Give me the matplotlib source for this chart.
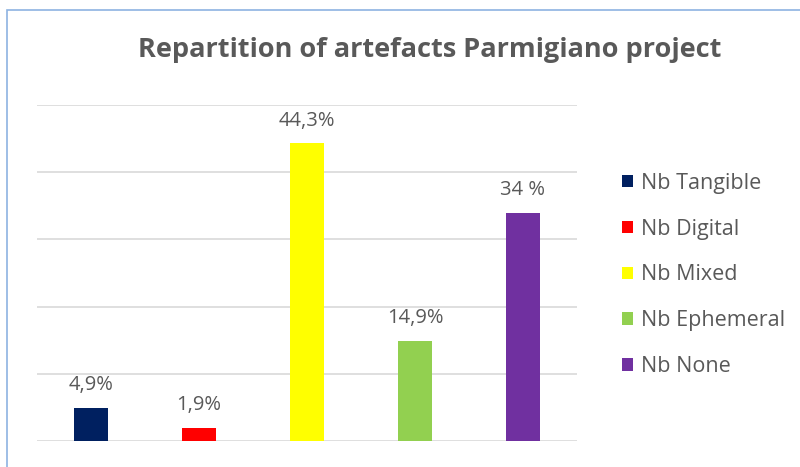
import matplotlib.pyplot as plt
from matplotlib.patches import Rectangle, Patch

# Data
categories = ['Nb Tangible', 'Nb Digital', 'Nb Mixed', 'Nb Ephemeral', 'Nb None']
values = [4.9, 1.9, 44.3, 14.9, 34.0]
value_labels = ['4,9%', '1,9%', '44,3%', '14,9%', '34 %']
colors = ['#002060', '#ff0000', '#ffff00', '#92d050', '#7030a0']

text_title = 'Repartition of artefacts Parmigiano project'
color_text = '#595959'
color_grid = '#d9d9d9'

plt.rcParams['font.family'] = ['Open Sans', 'DejaVu Sans']

fig = plt.figure(figsize=(8, 4.67), dpi=100)

# outer chart frame (Excel style)
fig.patches.append(Rectangle((7 / 800, -0.1), 1.2, (467 - 10) / 467 + 0.1,
                             transform=fig.transFigure, fill=False,
                             edgecolor='#8db3e2', linewidth=1.2))

ax = fig.add_axes([37 / 800, 26 / 467, 540 / 800, 336 / 467])
x = range(len(categories))
bars = ax.bar(x, values, width=0.31, color=colors, zorder=3)

for bar, lab in zip(bars, value_labels):
    ax.text(bar.get_x() + bar.get_width() / 2, bar.get_height() + 1.9, lab,
            ha='center', va='bottom', fontsize=14.5, color=color_text)

ax.set_xlim(-0.5, 4.5)
ax.set_ylim(0, 50)
ax.set_yticks([0, 10, 20, 30, 40, 50])
ax.yaxis.grid(True, color=color_grid, linewidth=1.2, zorder=0)
ax.tick_params(left=False, bottom=False, labelleft=False, labelbottom=False)
for s in ax.spines.values():
    s.set_visible(False)
ax.set_facecolor('none')

fig.text(430 / 800, 1 - 50 / 467, text_title, ha='center', va='center',
         fontsize=19.5, fontweight='bold', color=color_text)

handles = [Patch(facecolor=c, edgecolor='none') for c in colors]
leg = fig.legend(handles, categories, loc='center left',
                 bbox_to_anchor=(603 / 800, 1 - 275 / 467), frameon=False,
                 fontsize=15.5, handlelength=0.5, handleheight=0.5,
                 handletextpad=0.35, labelspacing=1.15)
for t in leg.get_texts():
    t.set_color(color_text)

fig.savefig('out.png', dpi=100)
